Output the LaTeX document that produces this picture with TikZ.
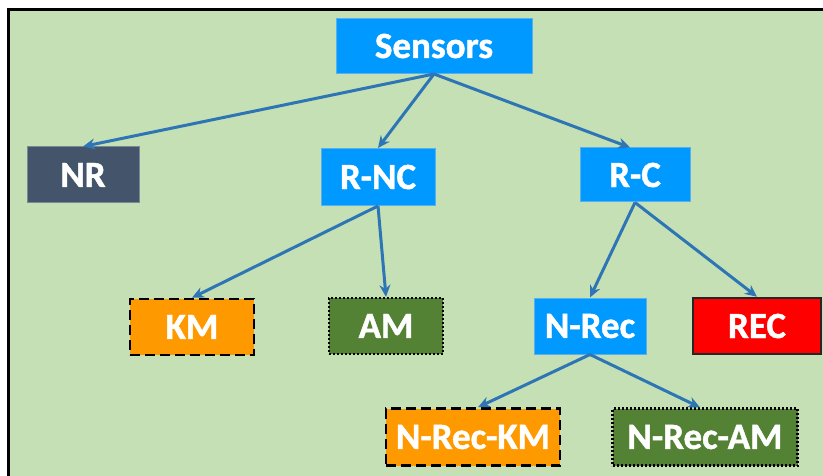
\documentclass[tikz,border=0pt]{standalone}
\usepackage{fontspec}
\setmainfont{Carlito}[BoldFeatures={FakeBold=1.2}]
\usetikzlibrary{arrows.meta}
\definecolor{bgGreen}{HTML}{C5E0B4}
\definecolor{boxBlue}{HTML}{0099FF}
\definecolor{edgeBlue}{HTML}{5AB0EC}
\definecolor{slate}{HTML}{44546A}
\definecolor{kmOrange}{HTML}{FF9900}
\definecolor{amGreen}{HTML}{548235}
\definecolor{recRed}{HTML}{FF0000}
\definecolor{linkBlue}{HTML}{2E75B6}
\tikzset{
  box/.style={rectangle, inner sep=0pt, text=white,
    font=\fontsize{37}{40}\selectfont\bfseries},
  bluebox/.style={box, fill=boxBlue, draw=edgeBlue, line width=1pt},
  nrbox/.style={box, fill=slate, draw=slate!70!white, line width=1pt},
  kmbox/.style={box, fill=kmOrange, draw=black, line width=2.5pt,
    dash pattern=on 10pt off 5pt},
  ambox/.style={box, fill=amGreen, draw=black, line width=2.2pt,
    dash pattern=on 2pt off 2pt},
  recbox/.style={box, fill=recRed, draw=black!85, line width=2.5pt},
  link/.style={draw=linkBlue, line width=3pt,
    -{Stealth[length=12pt,width=11pt]}}
}
\begin{document}
\begin{tikzpicture}[x=1pt,y=-1pt]
  \useasboundingbox (0,0) rectangle (823,476);
  \clip (0,0) rectangle (823,476);
  % green canvas with black top and left edges
  \fill[bgGreen] (8.5,9.5) rectangle (830,480);
  \draw[black, line width=3pt] (830,9.5) -- (8.5,9.5) -- (8.5,480);

  % nodes
  \node[bluebox, minimum width=196pt, minimum height=55pt] (sensors) at (434,46) {Sensors};
  \node[nrbox, minimum width=112pt, minimum height=56pt] (nr) at (83,175) {NR};
  \node[bluebox, minimum width=114pt, minimum height=57pt] (rnc) at (378,177) {R-NC};
  \node[bluebox, minimum width=110pt, minimum height=54pt] (rc) at (635,175) {R-C};
  \node[kmbox, minimum width=124pt, minimum height=56pt] (km) at (192,327) {KM};
  \node[ambox, minimum width=114pt, minimum height=56pt] (am) at (386,326) {AM};
  \node[bluebox, minimum width=112pt, minimum height=56pt] (nrec) at (590,326) {N-Rec};
  \node[recbox, minimum width=128pt, minimum height=56pt] (rec) at (757,326) {REC};
  \node[kmbox, minimum width=174pt, minimum height=57pt] (nreckm) at (473,437) {N-Rec-KM};
  \node[ambox, minimum width=185pt, minimum height=57pt] (nrecam) at (705,437) {N-Rec-AM};

  % connectors
  \draw[link] (sensors.south) -- (nr.north);
  \draw[link] (sensors.south) -- (rnc.north);
  \draw[link] (sensors.south) -- ([xshift=-5pt]rc.north);
  \draw[link] (rnc.south) -- (km.north);
  \draw[link] (rnc.south) -- (am.north);
  \draw[link] (rc.south) -- (nrec.north);
  \draw[link] (rc.south) -- (rec.north);
  \draw[link] (nrec.south) -- ([xshift=5pt]nreckm.north);
  \draw[link] (nrec.south) -- ([xshift=-5pt]nrecam.north);
\end{tikzpicture}
\end{document}
